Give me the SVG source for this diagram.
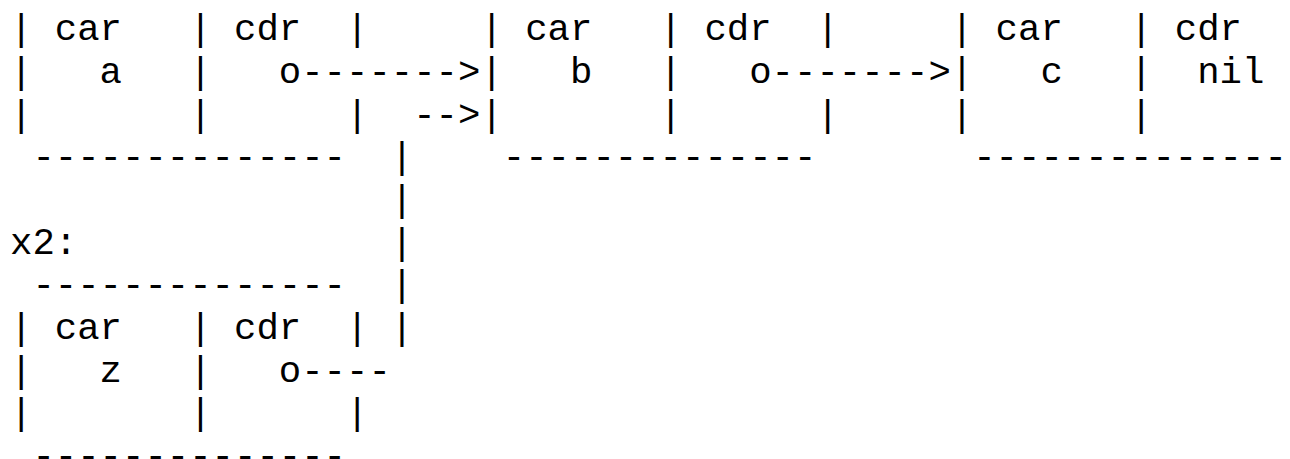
<svg xmlns="http://www.w3.org/2000/svg" width="1290" height="459" viewBox="0 0 1290 459">
  <style>
    /* monospace grid: 22.4px per column, 42.667px per row */
    text { font-family: "Liberation Mono", "DejaVu Sans Mono", monospace; font-size: 37.333px; fill: #000; white-space: pre; }
  </style>
  <rect width="1290" height="459" fill="#fff"/>

  <!-- cons cell holding a -->
  <g id="cell-a">
    <text x="10" y="40.2" xml:space="preserve">| car   | cdr  |</text>
    <text x="10" y="82.87" xml:space="preserve">|   a   |   o</text>
    <text x="10" y="125.53" xml:space="preserve">|       |      |</text>
    <text x="32.4" y="168.2">--------------</text>
  </g>

  <!-- cons cell holding b -->
  <g id="cell-b">
    <text x="480.4" y="40.2" xml:space="preserve">| car   | cdr  |</text>
    <text x="480.4" y="82.87" xml:space="preserve">|   b   |   o</text>
    <text x="480.4" y="125.53" xml:space="preserve">|       |      |</text>
    <text x="502.8" y="168.2">--------------</text>
  </g>

  <!-- cons cell holding c, end of list -->
  <g id="cell-c">
    <text x="950.8" y="40.2" xml:space="preserve">| car   | cdr</text>
    <text x="950.8" y="82.87" xml:space="preserve">|   c   |  nil</text>
    <text x="950.8" y="125.53" xml:space="preserve">|       |</text>
    <text x="973.2" y="168.2">--------------</text>
  </g>

  <!-- cons cell x2 holding z -->
  <g id="cell-x2">
    <text x="10" y="253.53">x2:</text>
    <text x="32.4" y="296.2">--------------</text>
    <text x="10" y="338.87" xml:space="preserve">| car   | cdr  |</text>
    <text x="10" y="381.53" xml:space="preserve">|   z   |   o</text>
    <text x="10" y="424.2" xml:space="preserve">|       |      |</text>
    <text x="32.4" y="466.87">--------------</text>
  </g>

  <!-- pointers drawn as ascii lines -->
  <g id="connectors">
    <text x="301.2" y="82.87">-------&gt;</text>
    <text x="771.6" y="82.87">-------&gt;</text>
    <!-- x2's cdr runs up column 17 and into b -->
    <text x="301.2" y="381.53">----</text>
    <text x="390.8" y="338.87">|</text>
    <text x="390.8" y="296.2">|</text>
    <text x="390.8" y="253.53">|</text>
    <text x="390.8" y="210.87">|</text>
    <text x="390.8" y="168.2">|</text>
    <text x="413.2" y="125.53">--&gt;</text>
  </g>
</svg>
